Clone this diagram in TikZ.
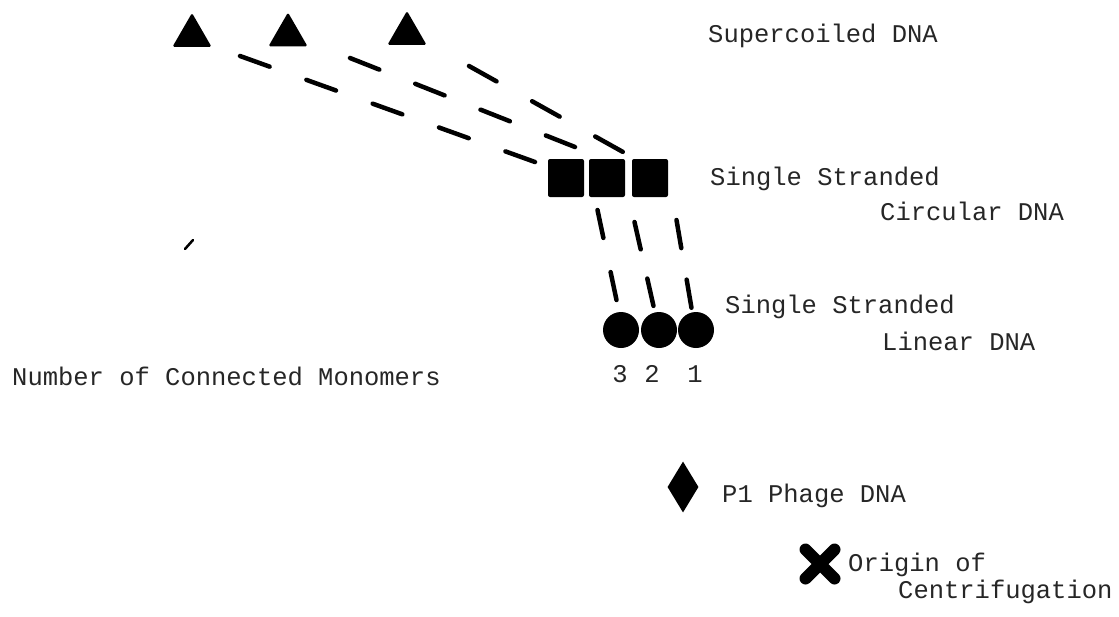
\documentclass[tikz,border=0pt]{standalone}
\usepackage{fontspec}
\setmainfont{Liberation Mono}
\usetikzlibrary{shapes.geometric,shapes.misc}
\tikzset{
  tri/.style={regular polygon, regular polygon sides=3, minimum size=45pt, inner sep=0pt, fill=black, rounded corners=1.5pt},
  sq/.style={rectangle, minimum width=36pt, minimum height=38pt, inner sep=0pt, fill=black, rounded corners=2pt},
  dot/.style={circle, minimum size=36pt, inner sep=0pt, fill=black},
  dlx/.style 2 args={line width=4.5pt, line cap=round, dash pattern=on #1 off #2},
  lbl/.style={anchor=base west, inner sep=0pt, font=\fontsize{25.5}{30}\selectfont, text=black!85},
  num/.style={anchor=base, inner sep=0pt, font=\fontsize{25.5}{30}\selectfont, text=black!85}
}
\begin{document}
\begin{tikzpicture}[x=1pt,y=-1pt]
\useasboundingbox (0,0) rectangle (1119,616);
% triangles
\node[tri] (t1) at (192,35.5) {};
\node[tri] (t2) at (288,35) {};
\node[tri] (t3) at (407,33.5) {};
% squares
\node[sq] (s1) at (566,178) {};
\node[sq] (s2) at (607,178) {};
\node[sq] (s3) at (650,178) {};
% circles
\node[dot] (c1) at (621,330) {};
\node[dot] (c2) at (659,330) {};
\node[dot] (c3) at (696,330) {};
% diamond
\node[diamond, minimum width=31pt, minimum height=51pt, inner sep=0pt, fill=black] (dia) at (683,487) {};
% cross
\node[cross out, draw=black, line width=12pt, line cap=round, minimum size=17pt, inner sep=0pt] (cr) at (820,564) {};
% dashed connectors triangles -> squares
\draw[dlx={31.5pt}{39pt}] ([shift={(48,20.5)}]t1.center) -- ([shift={(-31,-16)}]s1.center);
\draw[dlx={31.5pt}{38.7pt}] ([shift={(62,23)}]t2.center) -- ([shift={(-32,-31)}]s2.center);
\draw[dlx={31.5pt}{40.8pt}] ([shift={(62,32.5)}]t3.center) -- ([shift={(-27,-26)}]s3.center);
% dashed connectors squares -> circles
\draw[dlx={28.5pt}{35pt}] ([shift={(31.5,32)}]s1.center) -- ([shift={(-4.5,-30)}]c1.center);
\draw[dlx={28pt}{30pt}] ([shift={(27.5,44)}]s2.center) -- ([shift={(-5.5,-24)}]c2.center);
\draw[dlx={28.5pt}{32pt}] ([shift={(26.5,42)}]s3.center) -- ([shift={(-4.5,-22)}]c3.center);
% stray mark
\coordinate (m1) at (185,249);
\coordinate (m2) at (193,240);
\draw[line width=2.5pt, line cap=round] (m1) -- (m2);
% labels
\node[lbl] (l1) at (708,42) {Supercoiled DNA};
\node[lbl] (l2) at (710,185) {Single Stranded};
\node[lbl] (l3) at (880,220) {Circular DNA};
\node[lbl] (l4) at (725,313) {Single Stranded};
\node[lbl] (l5) at (882,350) {Linear DNA};
\node[lbl] (l6) at (12,385) {Number of Connected Monomers};
\node[num] (n3) at (620,382) {3};
\node[num] (n2) at (652,382) {2};
\node[num] (n1) at (695,382) {1};
\node[lbl] (l7) at (722,502) {P1 Phage DNA};
\node[lbl] (l8) at (848,571) {Origin of};
\node[lbl] (l9) at (898,598) {Centrifugation};
\end{tikzpicture}
\end{document}
